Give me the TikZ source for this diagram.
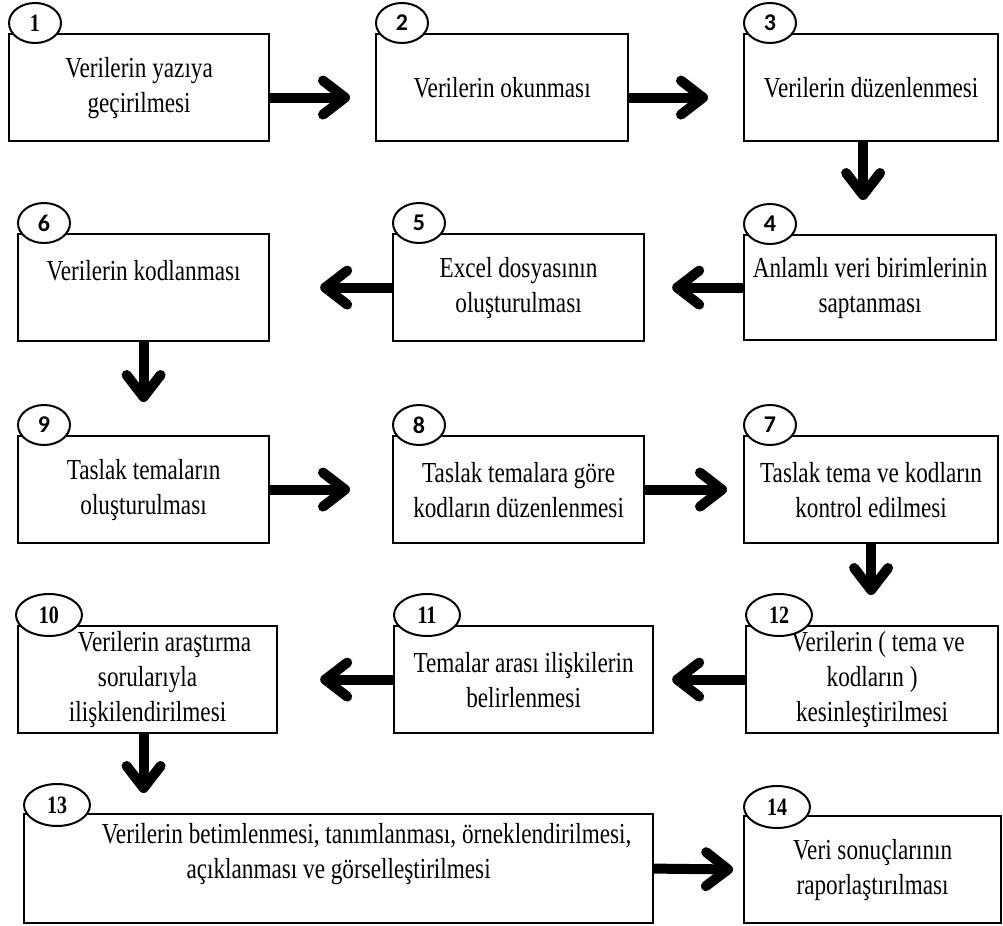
\documentclass[tikz,border=0pt]{standalone}
\usepackage{fontspec}
\setmainfont[FakeStretch=0.8]{Liberation Serif}
\newfontfamily\numsans{Carlito}
\usetikzlibrary{arrows.meta,shapes.geometric}

\begin{document}
\begin{tikzpicture}[x=0.5pt,y=-0.5pt]
		  \tikzstyle{every node}=[font=\fontsize{14.5}{17.5}\selectfont]
		  \tikzstyle{box}=[draw,line width=1.1pt,anchor=north west,align=center,inner sep=0pt,minimum width=125.5pt,minimum height=53.5pt]
		  \tikzstyle{tag}=[draw,ellipse,fill=white,line width=1pt,anchor=west,inner sep=0pt,minimum width=26pt,minimum height=20pt,font=\numsans\bfseries\fontsize{12}{12}\selectfont]
		  \tikzstyle{bigtag}=[tag,minimum width=33pt,minimum height=21pt,font=\bfseries\fontsize{12.5}{12.5}\selectfont]
		  \tikzstyle{flow}=[line width=5pt,-{Straight Barb[length=11pt,width=17pt,round]}]
		  \useasboundingbox (0,0) rectangle (1003,926);
		  \node[box,minimum width=130pt](b1) at (8,33){Verilerin yazıya\\geçirilmesi};
		  \node[box,minimum width=126pt](b2) at (375,33){Verilerin okunması};
		  \node[box,minimum width=127pt](b3) at (743,33){Verilerin düzenlenmesi};
		  \node[box,minimum width=126pt,minimum height=52.5pt](b4) at (743,234){Anlamlı veri birimlerinin\\saptanması};
		  \node[box](b5) at (392,233){Excel dosyasının\\oluşturulması};
		  \node[box](b6) at (17,233){Verilerin kodlanması\\\mbox{}};
		  \node[box,minimum width=127pt](b7) at (743,435){Taslak tema ve kodların\\kontrol edilmesi};
		  \node[box](b8) at (392,435){Taslak temalara göre\\kodların düzenlenmesi};
		  \node[box](b9) at (17,435){Taslak temaların\\oluşturulması};
		  \node[box,minimum width=129.5pt](b10) at (17,625){\hspace*{17pt}Verilerin araştırma\\sorularıyla\\ilişkilendirilmesi};
		  \node[box,minimum width=129.5pt](b11) at (393,625){Temalar arası ilişkilerin\\belirlenmesi};
		  \node[box,minimum width=126pt](b12) at (745,625){\hspace*{6pt}Verilerin ( tema ve\\kodların )\\kesinleştirilmesi};
		  \node[box,minimum width=314.5pt,minimum height=54.5pt](b13) at (23,813){\hspace*{28pt}Verilerin betimlenmesi, tanımlanması, örneklendirilmesi,\\açıklanması ve görselleştirilmesi\\\mbox{}};
		  \node[box,minimum width=128.5pt](b14) at (743,815){Veri sonuçlarının\\raporlaştırılması};
		  \node[tag,font=\bfseries\fontsize{12.5}{12.5}\selectfont](t1) at ([yshift=5pt]b1.north west){1};
		  \node[tag](t2) at ([yshift=5pt]b2.north west){2};
		  \node[tag](t3) at ([yshift=5pt]b3.north west){3};
		  \node[tag](t4) at ([yshift=5pt]b4.north west){4};
		  \node[tag](t5) at ([yshift=5pt]b5.north west){5};
		  \node[tag](t6) at ([yshift=5pt]b6.north west){6};
		  \node[tag](t7) at ([yshift=5pt]b7.north west){7};
		  \node[tag](t8) at ([yshift=5pt]b8.north west){8};
		  \node[tag](t9) at ([yshift=5pt]b9.north west){9};
		  \node[bigtag](t10) at ([xshift=-1pt,yshift=5pt]b10.north west){10};
		  \node[bigtag](t11) at ([yshift=5pt]b11.north west){11};
		  \node[bigtag](t12) at ([yshift=5pt]b12.north west){12};
		  \node[bigtag](t13) at ([yshift=4pt]b13.north west){13};
		  \node[bigtag](t14) at ([yshift=4pt]b14.north west){14};
		  \draw[flow,shorten >=12.5pt]([yshift=-5pt]b1.east)--([yshift=-5pt]b2.west);
		  \draw[flow,shorten >=17.5pt]([yshift=-5pt]b2.east)--([yshift=-5pt]b3.west);
		  \draw[flow,shorten >=17pt]([xshift=-4pt]b3.south)--([xshift=-4pt]b3.south |- b4.north);
		  \draw[flow,shorten >=13.5pt](b4.west)--(b5.east);
		  \draw[flow,shorten >=25pt](b5.west)--(b6.east);
		  \draw[flow,shorten >=16.5pt](b6.south)--(b9.north);
		  \draw[flow,shorten >=21pt](b9.east)--(b8.west);
		  \draw[flow,shorten >=8pt](b8.east)--(b7.west);
		  \draw[flow,shorten >=15pt](b7.south)--(b7.south |- b12.north);
		  \draw[flow,shorten >=9pt](b12.west)--(b11.east);
		  \draw[flow,shorten >=21pt](b11.west)--(b10.east);
		  \draw[flow,shorten >=10pt]([xshift=-2pt]b10.south)--([xshift=-2pt]b10.south |- b13.north);
		  \draw[flow,shorten >=5pt](b13.east)--(b14.west);
		\end{tikzpicture}
\end{document}
